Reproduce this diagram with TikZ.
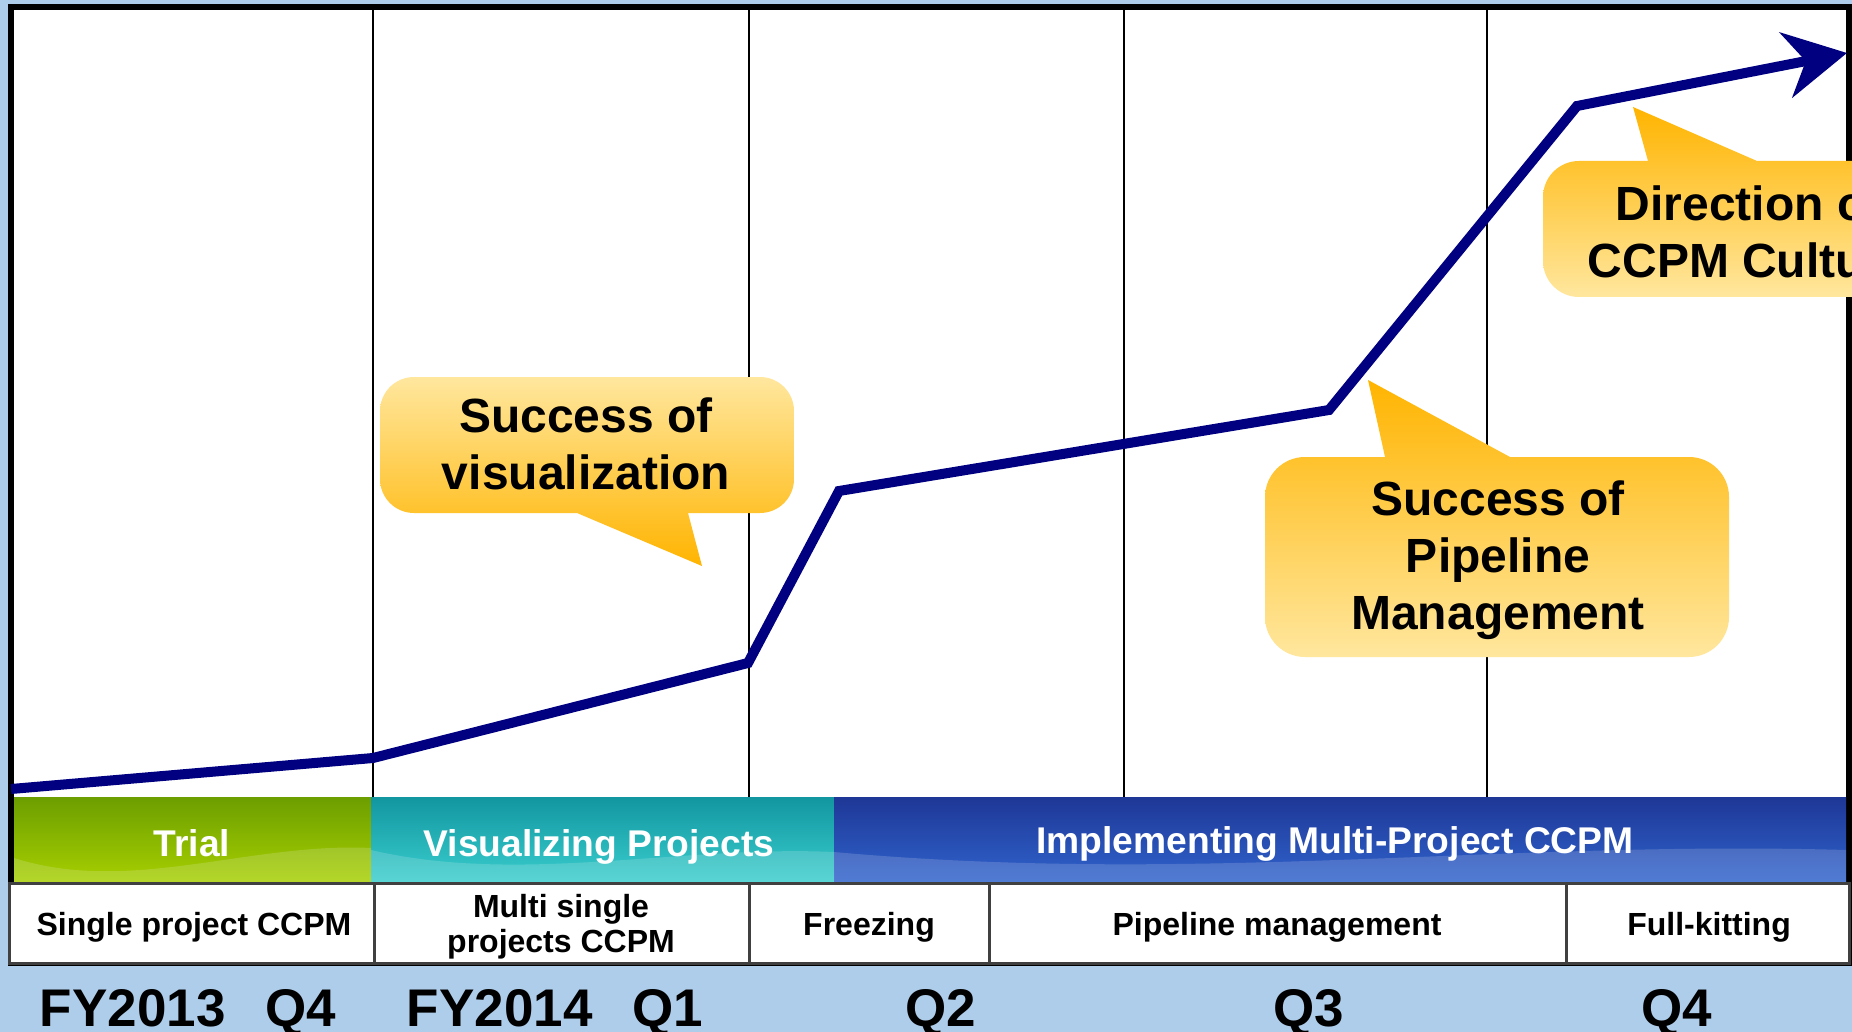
\documentclass[tikz,border=0pt]{standalone}
\usepackage{fontspec}
\setmainfont{Liberation Sans}
\usetikzlibrary{arrows.meta}

\definecolor{skyback}{RGB}{174,205,235}
\definecolor{trendnavy}{RGB}{0,0,128}
\definecolor{bubblelight}{RGB}{255,231,158}
\definecolor{bubbleorange}{RGB}{255,180,0}
\definecolor{trialtop}{RGB}{108,158,0}
\definecolor{trialbot}{RGB}{168,208,0}
\definecolor{vistop}{RGB}{18,150,160}
\definecolor{visbot}{RGB}{58,206,206}
\definecolor{impltop}{RGB}{30,55,150}
\definecolor{implbot}{RGB}{48,100,205}
\definecolor{tablegray}{RGB}{64,64,64}

\begin{document}
\begin{tikzpicture}[x=0.5pt,y=-0.5pt,
    quarterline/.style={line width=1pt},
    gloss/.style={white,opacity=.16},
    phasetext/.style={text=white,anchor=base,font=\bfseries\fontsize{18.6}{22}\selectfont},
    celltext/.style={font=\bfseries\fontsize{16}{17.5}\selectfont,align=center},
    periodtext/.style={anchor=base,font=\bfseries\fontsize{26.5}{30}\selectfont},
    bubbletext/.style={font=\bfseries\fontsize{24}{28.5}\selectfont,align=center},
    tipdown/.style={top color=bubblelight,middle color=bubblelight!85!bubbleorange,bottom color=bubbleorange},
    tipup/.style={top color=bubbleorange,middle color=bubblelight!60!bubbleorange,bottom color=bubblelight},
    trend/.style={trendnavy,line width=5pt,-{Stealth[length=31pt,width=33pt,inset=10pt]}}]

\fill[skyback] (0,0) rectangle (1852,1032);
\clip (0,0) rectangle (1852,1032);

\draw[fill=white,line width=3pt] (11,7) rectangle (1849,963);
\foreach \gx in {373,749,1124,1487}
  \draw[quarterline] (\gx,10) -- (\gx,797);

% phase band
\shade[top color=trialtop,bottom color=trialbot] (14,797) rectangle (371,883);
\shade[top color=vistop,bottom color=visbot] (371,797) rectangle (834,883);
\shade[top color=impltop,bottom color=implbot] (834,797) rectangle (1846,883);
\fill[gloss] (14,858) .. controls (130,895) and (250,842) .. (371,848) -- (371,883) -- (14,883) -- cycle;
\fill[gloss] (371,850) .. controls (520,885) and (680,845) .. (834,852) -- (834,883) -- (371,883) -- cycle;
\fill[gloss] (834,852) .. controls (1200,885) and (1500,840) .. (1846,850) -- (1846,883) -- (834,883) -- cycle;
\node[phasetext] (trial) at (192,856) {Trial};
\node[phasetext] (visual) at (599,856) {Visualizing Projects};
\node[phasetext] (implement) at (1335,853) {Implementing Multi-Project CCPM};

% steps row
\draw[tablegray,line width=1.5pt,fill=white] (9,883) rectangle (1849,963);
\foreach \cx in {374,749,989,1566}
  \draw[tablegray,line width=1.5pt] (\cx,883) -- (\cx,963);
\node[celltext,anchor=base] (single) at (194,935) {Single project CCPM};
\node[celltext] (multi) at (561,927) {Multi single\\projects CCPM};
\node[celltext,anchor=base] (freeze) at (869,935) {Freezing};
\node[celltext,anchor=base] (pipe) at (1277,935) {Pipeline management};
\node[celltext,anchor=base] (kit) at (1709,935) {Full-kitting};

% periods
\node[periodtext] (fy13) at (188,1026) {FY2013\hspace{0.75em}Q4};
\node[periodtext] (fy14) at (555,1026) {FY2014\hspace{0.75em}Q1};
\node[periodtext] (q2) at (941,1026) {Q2};
\node[periodtext] (q3) at (1309,1026) {Q3};
\node[periodtext] (q4) at (1677,1026) {Q4};

% callouts
\shade[tipdown] (702,566) -- (577,513) [rounded corners=17pt] -- (380,513) -- (380,377) -- (794,377) -- (794,513) [sharp corners] -- (688,513) -- cycle;
\shade[tipup] (1368,380) -- (1385,457) [rounded corners=20pt] -- (1265,457) -- (1265,657) -- (1729,657) -- (1729,457) [sharp corners] -- (1510,457) -- cycle;
\shade[tipup] (1633,107) -- (1648,161) [rounded corners=18pt] -- (1543,161) -- (1543,297) -- (1955,297) -- (1955,161) [sharp corners] -- (1757,161) -- cycle;
\node[bubbletext] (visok) at (586,444) {Success of\\visualization};
\node[bubbletext] (pipeok) at (1498,560) {Success of\\Pipeline\\Management};
\node[bubbletext] (culture) at (1749,232) {Direction of\\CCPM Culture};

% trend
\coordinate (p0) at (11,789);
\coordinate (p1) at (373,758);
\coordinate (p2) at (748,663);
\coordinate (p3) at (839,491);
\coordinate (p4) at (1329,410);
\coordinate (p5) at (1577,106);
\coordinate (p6) at (1847,53);
\draw[trend] (p0) -- (p1) -- (p2) -- (p3) -- (p4) -- (p5) -- (p6);
\end{tikzpicture}
\end{document}
